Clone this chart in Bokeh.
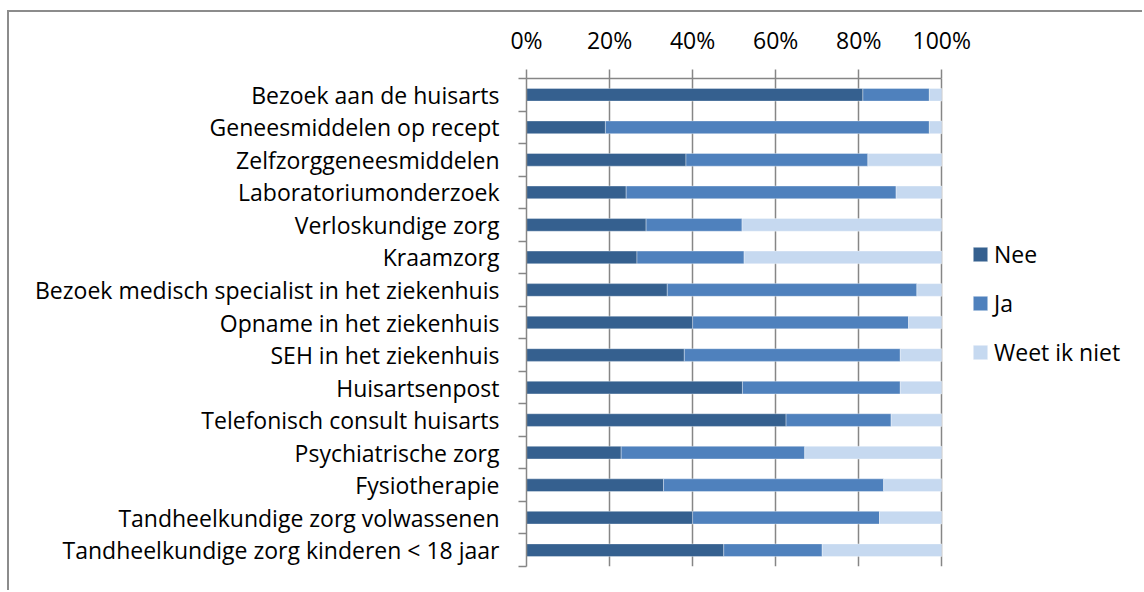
from bokeh.plotting import figure
from bokeh.models import ColumnDataSource, Range1d, FixedTicker, LinearAxis, Legend, LegendItem
from bokeh.embed import file_html
from bokeh.resources import INLINE

categories = [
    "Bezoek aan de huisarts",
    "Geneesmiddelen op recept",
    "Zelfzorggeneesmiddelen",
    "Laboratoriumonderzoek",
    "Verloskundige zorg",
    "Kraamzorg",
    "Bezoek medisch specialist in het ziekenhuis",
    "Opname in het ziekenhuis",
    "SEH in het ziekenhuis",
    "Huisartsenpost",
    "Telefonisch consult huisarts",
    "Psychiatrische zorg",
    "Fysiotherapie",
    "Tandheelkundige zorg volwassenen",
    "Tandheelkundige zorg kinderen < 18 jaar",
]
nee = [0.81, 0.19, 0.384, 0.24, 0.288, 0.266, 0.339, 0.40, 0.38, 0.52, 0.625, 0.228, 0.33, 0.40, 0.475]
ja = [0.16, 0.78, 0.438, 0.65, 0.231, 0.258, 0.601, 0.52, 0.52, 0.38, 0.253, 0.442, 0.53, 0.45, 0.237]
weet = [round(1 - a - b, 3) for a, b in zip(nee, ja)]
series_names = ["Nee", "Ja", "Weet ik niet"]
x_ticks = [0, 0.2, 0.4, 0.6, 0.8, 1.0]
x_tick_labels = ["0%", "20%", "40%", "60%", "80%", "100%"]

colors = ["#35608F", "#4F81BD", "#C6D9F0"]
FONT = "Open Sans"
FS = "23px"

W, H = 1135, 580
BL, BR, BT, BB = 517, 0, 66, 26
frame_w = W - BL - BR
x_end = frame_w / 415.3   # 0..100% spans 415 px; the rest holds the legend

ypos = [i + 0.5 for i in range(len(categories))]
source = ColumnDataSource(dict(y=ypos, nee=nee, ja=ja, weet=weet))

p = figure(width=W, height=H, output_backend="svg", toolbar_location=None,
           x_range=Range1d(0, x_end), y_range=Range1d(len(categories), 0),
           x_axis_location=None, y_axis_location=None,
           min_border_left=BL, min_border_right=BR, min_border_top=BT, min_border_bottom=BB)
p.outline_line_color = None
p.background_fill_color = "white"
p.border_fill_color = "white"
p.styles = {"border-left": "2px solid #8c8c8c", "border-top": "2px solid #8c8c8c",
            "margin-left": "7px", "margin-top": "10px"}

renderers = p.hbar_stack(["nee", "ja", "weet"], y="y", height=0.39, color=colors,
                         line_color="#ffffff", line_alpha=0.35, line_width=1, source=source)

# top x axis
xaxis = LinearAxis(ticker=FixedTicker(ticks=x_ticks), bounds=(0, 1))
xaxis.major_label_overrides = {t: l for t, l in zip(x_ticks, x_tick_labels)}
xaxis.axis_line_color = "#868686"
xaxis.axis_line_width = 1.5
xaxis.major_tick_line_color = "#868686"
xaxis.major_tick_line_width = 1.5
xaxis.major_tick_out = 9
xaxis.major_tick_in = 0
xaxis.minor_tick_line_color = None
xaxis.major_label_text_font = FONT
xaxis.major_label_text_font_size = FS
xaxis.major_label_text_color = "black"
xaxis.major_label_standoff = 14
p.add_layout(xaxis, "above")

# left category axis
yaxis = LinearAxis(ticker=FixedTicker(ticks=ypos, minor_ticks=list(range(len(categories) + 1))))
yaxis.major_label_overrides = {y: c for y, c in zip(ypos, categories)}
yaxis.axis_line_color = "#868686"
yaxis.axis_line_width = 1.5
yaxis.major_tick_line_color = None
yaxis.minor_tick_line_color = "#868686"
yaxis.minor_tick_line_width = 1.5
yaxis.minor_tick_out = 8
yaxis.minor_tick_in = 0
yaxis.major_label_text_font = FONT
yaxis.major_label_text_font_size = FS
yaxis.major_label_text_color = "black"
yaxis.major_label_standoff = 19
p.add_layout(yaxis, "left")

p.xgrid.ticker = FixedTicker(ticks=x_ticks)
p.xgrid.grid_line_color = "#868686"
p.xgrid.grid_line_width = 1.5
p.ygrid.grid_line_color = None

legend = Legend(items=[LegendItem(label=n, renderers=[r]) for n, r in zip(series_names, renderers)],
                location=(445, 198))
legend.label_text_font = FONT
legend.label_text_font_size = FS
legend.label_text_color = "black"
legend.label_height = 30
legend.glyph_width = 18
legend.glyph_height = 18
legend.spacing = 17
legend.border_line_color = None
legend.background_fill_alpha = 0
legend.padding = 0
legend.margin = 0
legend.label_standoff = 5
p.add_layout(legend, "center")

open("out.html", "w").write(file_html(p, INLINE))
